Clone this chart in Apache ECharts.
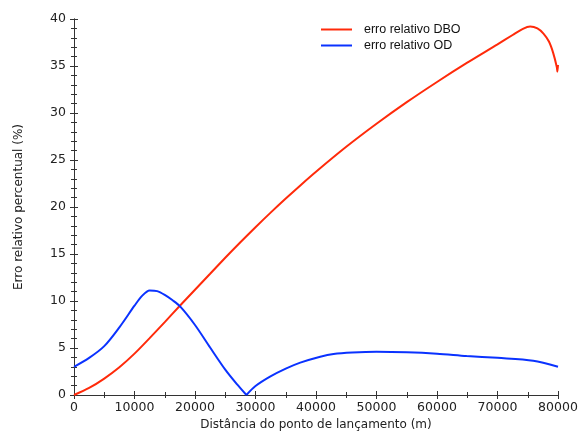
<!DOCTYPE html>
<html>
<head>
<meta charset="utf-8">
<script src="https://cdn.jsdelivr.net/npm/echarts@6/dist/echarts.min.js"></script>
<style>
  html, body { margin: 0; padding: 0; background: #fff; }
  #chart { width: 579px; height: 431px; }
</style>
</head>
<body>
<div id="chart"></div>
<script>
// valores
const dboX = [0, 2500, 5000, 7500, 10000, 12500, 15000, 17500, 20000, 22500, 25000, 27500, 30000, 32500, 35000, 37500, 40000, 45000, 50000, 55000, 60000, 65000, 70000, 72500, 74200, 75400, 76600, 77600, 78500, 79200, 79800, 79900, 80000]
const dboY = [0, 0.75, 1.75, 2.95, 4.4, 6.05, 7.75, 9.5, 11.2, 12.9, 14.6, 16.25, 17.85, 19.4, 20.9, 22.35, 23.75, 26.4, 28.85, 31.15, 33.3, 35.35, 37.3, 38.3, 38.95, 39.2, 39.0, 38.45, 37.6, 36.4, 34.9, 34.4, 35.1]

// OD: dois trechos, antes e depois do mínimo (bico em 28500 m)
const odX1 = [0, 2500, 5000, 7500, 10000, 11250, 12500, 13750, 15000, 16250, 17500, 20000, 22500, 25000, 27000, 28500]
const odY1 = [3.0, 3.95, 5.2, 7.2, 9.5, 10.55, 11.12, 11.05, 10.65, 10.1, 9.45, 7.45, 5.05, 2.7, 1.1, 0]
const odX2 = [28500, 30000, 32400, 35000, 37400, 40700, 42900, 46000, 50000, 55000, 60000, 64900, 70000, 75900, 80000]
const odY2 = [0, 0.95, 1.95, 2.8, 3.44, 4.07, 4.36, 4.52, 4.6, 4.55, 4.4, 4.15, 3.95, 3.65, 3.0]

const xTicks = { min: 0, max: 80000, interval: 10000 }
const yTicks = { min: 0, max: 40, interval: 5 }

const FONT = 'DejaVu Sans'
const AXIS_COLOR = '#333'
const RED = '#ff2a0a'
const BLUE = '#0a32ff'

function pairs(xs, ys) {
  return xs.map((x, i) => [x, ys[i]])
}

function lineSeries(name, data, color) {
  return {
    name: name,
    type: 'line',
    data: data,
    smooth: 0.3,
    showSymbol: false,
    lineStyle: { color: color, width: 2 },
    itemStyle: { color: color },
  }
}

const chart = echarts.init(document.getElementById('chart'))

// eixo base + cópia com marcas internas (marcas cruzando o eixo)
const xBase = {
  type: 'value',
  min: xTicks.min,
  max: xTicks.max,
  interval: xTicks.interval,
  axisLine: { show: true, lineStyle: { color: AXIS_COLOR, width: 1 } },
  splitLine: { show: false },
  minorTick: { show: true, splitNumber: 2, length: 3, lineStyle: { color: AXIS_COLOR } },
}
const yBase = {
  type: 'value',
  min: yTicks.min,
  max: yTicks.max,
  interval: yTicks.interval,
  axisLine: { show: true, lineStyle: { color: AXIS_COLOR, width: 1 } },
  splitLine: { show: false },
  minorTick: { show: true, splitNumber: 5, length: 3, lineStyle: { color: AXIS_COLOR } },
}

const option = {
  animation: false,
  backgroundColor: '#fff',
  grid: { left: 74, right: 21, top: 19, bottom: 36, outerBoundsMode: 'none', containLabel: false },
  legend: {
    top: 18,
    left: 316,
    orient: 'vertical',
    itemGap: 3,
    itemWidth: 31,
    itemHeight: 2,
    icon: 'rect',
    textStyle: { fontFamily: 'Liberation Sans', fontSize: 12.5, color: '#111', padding: [0, 0, 0, 7] },
    data: [
      { name: 'erro relativo DBO', itemStyle: { color: RED } },
      { name: 'erro relativo OD', itemStyle: { color: BLUE } },
    ],
  },
  xAxis: [
    {
      ...xBase,
      name: 'Distância do ponto de lançamento (m)',
      nameLocation: 'middle',
      nameGap: 23,
      nameTextStyle: { fontFamily: FONT, fontSize: 12, color: '#222' },
      axisTick: { show: true, length: 4, lineStyle: { color: AXIS_COLOR } },
      axisLabel: {
        fontFamily: FONT, fontSize: 12.5, color: '#222', margin: 6,
        formatter: (v) => String(v),
      },
    },
    {
      ...xBase,
      position: 'bottom',
      axisTick: { show: true, inside: true, length: 4, lineStyle: { color: AXIS_COLOR } },
      axisLabel: { show: false },
    },
  ],
  yAxis: [
    {
      ...yBase,
      name: 'Erro relativo percentual (%)',
      nameLocation: 'middle',
      nameGap: 49,
      nameTextStyle: { fontFamily: FONT, fontSize: 12, color: '#222' },
      axisTick: { show: true, length: 4, lineStyle: { color: AXIS_COLOR } },
      axisLabel: { fontFamily: FONT, fontSize: 12.5, color: '#222', margin: 8 },
    },
    {
      ...yBase,
      position: 'left',
      axisTick: { show: true, inside: true, length: 4, lineStyle: { color: AXIS_COLOR } },
      axisLabel: { show: false },
    },
  ],
  series: [
    lineSeries('erro relativo DBO', pairs(dboX, dboY), RED),
    lineSeries('erro relativo OD', pairs(odX1, odY1), BLUE),
    lineSeries('erro relativo OD', pairs(odX2, odY2), BLUE),
  ],
}

chart.setOption(option)
</script>
</body>
</html>
